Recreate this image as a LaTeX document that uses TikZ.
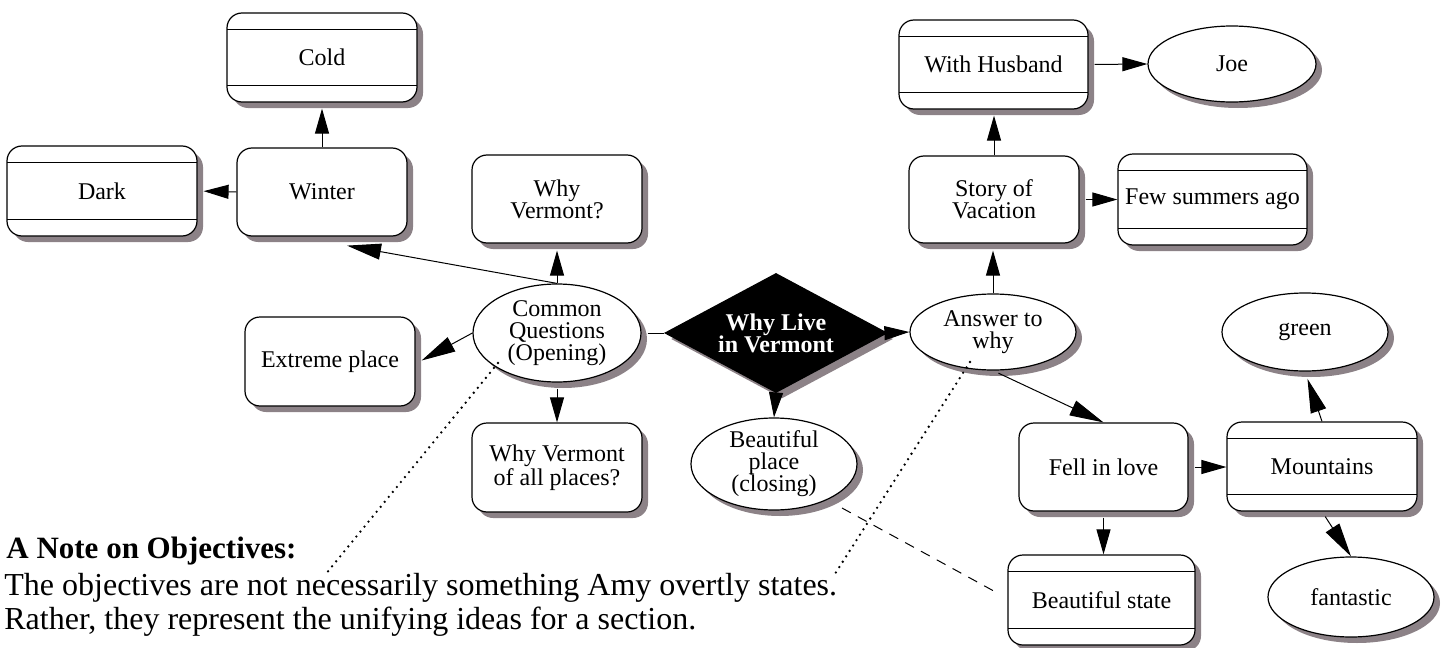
\documentclass[tikz,border=0pt]{standalone}
\usepackage{fontspec}
\setmainfont{Liberation Serif}
\usetikzlibrary{shapes.geometric,shadows,arrows.meta,calc}
\definecolor{shgray}{RGB}{140,130,135}
\begin{document}
\begin{tikzpicture}[x=0.5pt,y=-0.5pt,
  every node/.style={font=\fontsize{12}{11}\selectfont},
  sh/.style={drop shadow={shadow xshift=3pt,shadow yshift=-3pt,fill=shgray,opacity=1}},
  rbox/.style={draw,line width=0.6pt,fill=white,rounded corners=7.5pt,sh,align=center,inner sep=2pt},
  sbox/.style={rbox,path picture={
     \draw[line width=0.5pt] ([yshift=-8pt]path picture bounding box.north west) -- ([yshift=-8pt]path picture bounding box.north east);
     \draw[line width=0.5pt] ([yshift=8.5pt]path picture bounding box.south west) -- ([yshift=8.5pt]path picture bounding box.south east);}},
  ell/.style={draw,ellipse,line width=0.6pt,fill=white,sh,inner sep=0pt,align=center},
  arr/.style={line width=0.5pt,-{Triangle[length=12.5pt,width=7pt]}},
  darr/.style={line width=0.5pt,-{Triangle[length=17pt,width=8pt]}},
  con/.style={line width=0.5pt},
  dotline/.style={line width=1.3pt,dash pattern=on 0pt off 3.2pt,line cap=round},
  dashline/.style={line width=0.5pt,dash pattern=on 5pt off 4pt},
  notetext/.style={anchor=base west,inner sep=0pt,font=\fontsize{16}{17}\selectfont},
]
\useasboundingbox (0,0) rectangle (1447,648);

% rectangles
\node[sbox,minimum width=95pt,minimum height=44.5pt] (cold) at (322,57.5) {Cold};
\node[sbox,minimum width=95pt,minimum height=45pt] (dark) at (102,191) {Dark};
\node[rbox,minimum width=85pt,minimum height=44pt] (winter) at (322,192) {Winter};
\node[rbox,minimum width=85pt,minimum height=44pt] (whyv) at (557,199) {Why\\Vermont?};
\node[rbox,minimum width=85pt,minimum height=44.5pt] (extreme) at (330,361.5) {Extreme place};
\node[rbox,minimum width=85pt,minimum height=44.5pt] (whyall) at (557,467.5) {Why Vermont\\of all places?};
\node[rbox,minimum width=85pt,minimum height=43.5pt] (story) at (994,199.5) {Story of\\Vacation};
\node[sbox,minimum width=94.5pt,minimum height=44.5pt] (husband) at (993.5,64.5) {With Husband};
\node[sbox,minimum width=94.5pt,minimum height=45.5pt] (few) at (1212.5,199.5) {Few summers ago};
\node[rbox,minimum width=84.5pt,minimum height=44pt] (fell) at (1103.5,467) {Fell in love};
\node[sbox,minimum width=95pt,minimum height=44.5pt] (mount) at (1322,466.5) {Mountains};
\node[sbox,minimum width=93.5pt,minimum height=45pt] (bstate) at (1101.5,600) {Beautiful state};

% ellipses
\node[ell,minimum width=84pt,minimum height=49pt,
  label={[align=center]center:Common\\Questions\\(Opening)}] (cq) at (557,333) {};
\node[ell,minimum width=83pt,minimum height=46pt,
  label={[align=center]center:Beautiful\\place\\(closing)}] (bplace) at (774,464) {};
\node[ell,minimum width=83pt,minimum height=38pt] (answer) at (993,332) {Answer to\\why};
\node[ell,minimum width=84pt,minimum height=38pt] (joe) at (1232,64) {Joe};
\node[ell,minimum width=83pt,minimum height=39pt] (green) at (1305,332) {green};
\node[ell,minimum width=83pt,minimum height=40pt] (fant) at (1351,597) {fantastic};

% diamond
\node[diamond,draw,line width=0.6pt,fill=black,sh,inner sep=0pt,aspect=1.87,
  minimum width=111pt,minimum height=59.5pt,
  label={[align=center,text=white,font=\bfseries\fontsize{12}{11}\selectfont]center:Why Live\\in Vermont}] (d) at (776,333) {};

% connectors
\draw[darr] (cq.north) -- ($(winter.south)+(25,9)$);
\draw[arr,shorten >=3.5pt] (cq.north) -- (cq.north |- whyv.south);
\draw[arr,shorten >=3pt] (winter.north) -- (cold.south);
\draw[arr,shorten >=3pt] (winter.west) -- (dark.east);
\draw[darr] (cq.west) -- ($(extreme.east)+(6,-1)$);
\draw[arr,shorten <=3pt] (cq.south) -- (cq.south |- whyall.north);
\draw[con,shorten <=3pt] (cq.east) -- (d.west);
\draw[arr,shorten <=3pt] (d.east) -- (answer.west);
\draw[arr] (d.south) -- (bplace.north);
\draw[arr,shorten >=3.5pt] (answer.north) -- (answer.north |- story.south);
\draw[arr,shorten >=3pt] (story.north) -- (story.north |- husband.south);
\draw[arr,shorten <=3pt] (story.east) -- (story.east -| few.west);
\draw[arr,shorten <=3pt] (husband.east) -- (joe.west);
\draw[darr,shorten <=3pt] (answer.south) -- (fell.north);
\draw[arr,shorten <=3pt] (fell.east) -- (fell.east -| mount.west);
\draw[arr,shorten <=3pt] (fell.south) -- (fell.south |- bstate.north);
\draw[darr,shorten >=3.8pt] (mount.north) -- (green.south);
\draw[darr,shorten <=3pt] (mount.south) -- (fant.north);

% note
\coordinate (na) at (325,575);
\coordinate (nb) at (833,577);
\draw[dotline] ($(cq.center)+(-59,30)$) -- (na);
\draw[dotline] ($(answer.center)+(-23,30)$) -- (nb);
\draw[dashline] ($(bplace.center)+(68,44)$) -- ($(bstate.west)+(-10,-7)$);

\node[notetext,font=\bfseries\fontsize{15.5}{17}\selectfont] (nt) at (6,558) {A Note on Objectives:};
\node[notetext] (nl1) at (4,595) {The objectives are not necessarily something Amy overtly states.};
\node[notetext] (nl2) at (4,629) {Rather, they represent the unifying ideas for a section.};
\end{tikzpicture}
\end{document}
